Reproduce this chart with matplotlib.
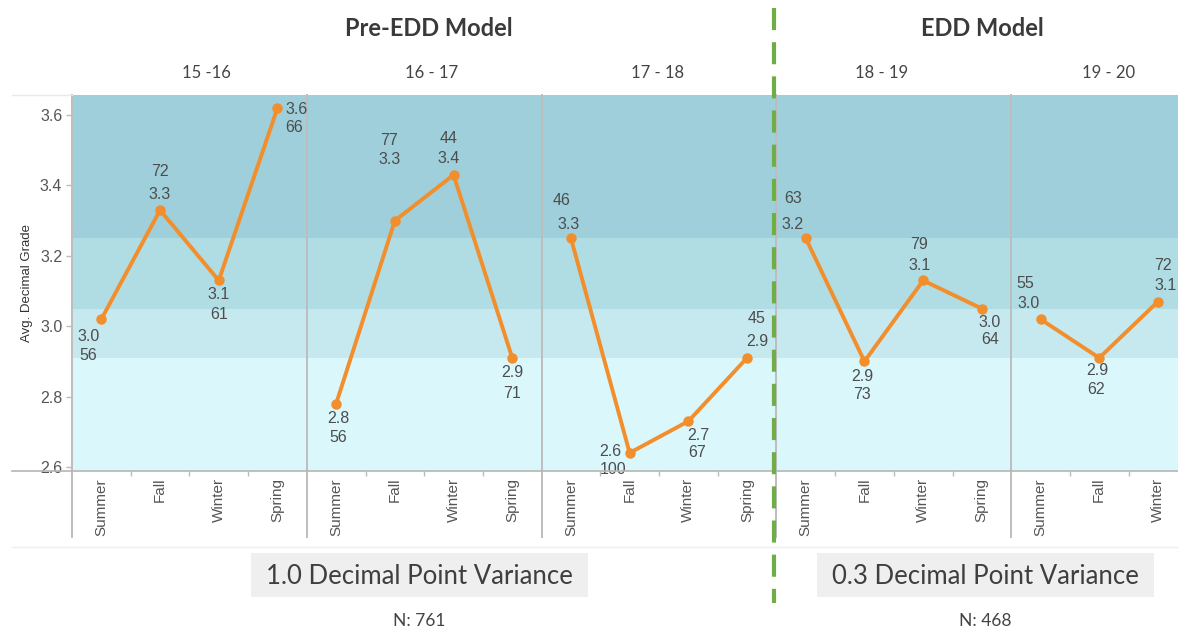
import matplotlib
matplotlib.use("Agg")
import matplotlib.pyplot as plt
from matplotlib.patches import Rectangle

# ---------------- data ----------------
years = ["15 -16", "16 - 17", "17 - 18", "18 - 19", "19 - 20"]
seasons = [["Summer", "Fall", "Winter", "Spring"],
           ["Summer", "Fall", "Winter", "Spring"],
           ["Summer", "Fall", "Winter", "Spring"],
           ["Summer", "Fall", "Winter", "Spring"],
           ["Summer", "Fall", "Winter"]]
grades = [[3.02, 3.33, 3.13, 3.62],
          [2.78, 3.30, 3.43, 2.91],
          [3.25, 2.64, 2.73, 2.91],
          [3.25, 2.90, 3.13, 3.05],
          [3.02, 2.91, 3.07]]
grade_labels = [["3.0", "3.3", "3.1", "3.6"],
                ["2.8", "3.3", "3.4", "2.9"],
                ["3.3", "2.6", "2.7", "2.9"],
                ["3.2", "2.9", "3.1", "3.0"],
                ["3.0", "2.9", "3.1"]]
counts = [[56, 72, 61, 66],
          [56, 77, 44, 71],
          [46, 100, 67, 45],
          [63, 73, 79, 64],
          [55, 62, 72]]
band_edges = [2.91, 3.05, 3.25]
band_colors = ["#DAF7FC", "#C6E9EF", "#B0DCE4", "#9ECFDA"]
models = ["Pre-EDD Model", "EDD Model"]
variances = ["1.0 Decimal Point Variance", "0.3 Decimal Point Variance"]
totals = ["N: 761", "N: 468"]

# label offsets in pixels (grade dx, grade dy, count dx, count dy), y down
label_off = [[(-13, 17, -13, 36), (0, -16, 0, -39), (0, 14, 0, 34), (16, 1, 16, 19)],
             [(2, 15, 2, 34), (-5, -61, -6, -80), (-5, -16, -5, -36), (0, 15, 0, 36)],
             [(-2, -14, -9, -38), (-19, -1, -17, 17), (10, 14, 9, 31), (10, -16, 10, -39)],
             [(-13, -14, -13, -40), (-2, 15, -2, 33), (-4, -15, -4, -36), (8, 14, 8, 31)],
             [(-12, -16, -15, -36), (-2, 13, -3, 32), (8, -16, 5, -36)]]

# ---------------- figure ----------------
W, H = 1178, 631
fig = plt.figure(figsize=(W / 100, H / 100), dpi=100)
fig.patch.set_facecolor("white")

px_left, px_top, px_bot = 72, 95, 471
slot = 58.7
ax = fig.add_axes([px_left / W, (H - px_bot) / H, 1 - px_left / W, (px_bot - px_top) / H])

y_lo = 2.6 - 4 / 350
y_hi = 3.6 + 20 / 350
x_lo = -0.5
x_hi = -0.5 + (W - px_left) / slot
ax.set_xlim(x_lo, x_hi)
ax.set_ylim(y_lo, y_hi)

edges = [y_lo] + band_edges + [y_hi]
for i, c in enumerate(band_colors):
    ax.axhspan(edges[i], edges[i + 1], color=c, lw=0, zorder=0)

ORANGE = "#F28E2B"
TXT = "#4D4D4D"
lab_font = "Liberation Sans"

xticks, xlabels, minor = [], [], []
start = 0
for p, (ss, gs) in enumerate(zip(seasons, grades)):
    xs = [start + i for i in range(len(ss))]
    ax.plot(xs, gs, color=ORANGE, lw=2.8, marker="o", ms=6.5, zorder=3,
            solid_capstyle="round", solid_joinstyle="round")
    for i, x in enumerate(xs):
        gdx, gdy, cdx, cdy = label_off[p][i]
        ha = "left" if (p == 0 and i == 3) else "center"
        ax.annotate(grade_labels[p][i], (x, gs[i]), xytext=(gdx - (8 if ha == "left" else 0), -gdy),
                    textcoords="offset pixels", ha=ha, va="center",
                    fontsize=11.5, color=TXT, family=lab_font, zorder=4)
        ax.annotate(str(counts[p][i]), (x, gs[i]), xytext=(cdx - (8 if ha == "left" else 0), -cdy),
                    textcoords="offset pixels", ha=ha, va="center",
                    fontsize=11.5, color=TXT, family=lab_font, zorder=4)
    xticks += xs
    xlabels += ss
    minor += [x + 0.5 for x in xs[:-1]]
    # panel divider
    ax.axvline(start - 0.5, ymin=-(537 - px_bot) / (px_bot - px_top), ymax=1,
               color="#BDBDBD", lw=1.4, clip_on=False, zorder=2)
    start += len(ss)

ax.set_xticks(xticks)
ax.set_xticklabels(xlabels, rotation=90, fontsize=11, color="#555555", family=lab_font)
ax.set_xticks(minor, minor=True)
ax.tick_params(axis="x", which="major", length=0, pad=5)
ax.tick_params(axis="x", which="minor", length=3.5, color="#BBBBBB", width=1)

yt = [2.6, 2.8, 3.0, 3.2, 3.4, 3.6]
ax.set_yticks(yt)
ax.set_yticklabels([f"{v:.1f}" for v in yt], fontsize=11.5, color="#555555", family=lab_font)
ax.tick_params(axis="y", length=4, color="#BBBBBB", width=1, pad=3)
ax.set_ylabel("Avg. Decimal Grade", fontsize=9.5, color="#333333", family=lab_font, labelpad=5)
for s in ["top", "right", "bottom", "left"]:
    ax.spines[s].set_visible(False)

# ---------------- overlay (pixel coordinates) ----------------
ov = fig.add_axes([0, 0, 1, 1])
ov.set_xlim(0, W)
ov.set_ylim(H, 0)
ov.axis("off")

ov.plot([12, W], [px_bot, px_bot], color="#B5B5B5", lw=1.2)
ov.plot([12, px_left], [px_top, px_top], color="#E8E8E8", lw=1)
ov.plot([12, W], [547, 547], color="#EEEEEE", lw=1)

title_font = ["Lato", "DejaVu Sans"]
for t, x in zip(models, [429, 982]):
    ov.text(x, 29, t, ha="center", va="center", fontsize=17, fontweight="bold",
            color="#3A3A3A", family=title_font)
for t, x in zip(years, [206, 432, 658, 882, 1109]):
    ov.text(x, 73, t, ha="center", va="center", fontsize=12, color="#444444", family=title_font)

for (x0, x1), t, n in zip([(251, 588), (817, 1154)], variances, totals):
    ov.add_patch(Rectangle((x0, 553), x1 - x0, 44, facecolor="#EFEFEF", edgecolor="none"))
    ov.text((x0 + x1) / 2, 576, t, ha="center", va="center", fontsize=18.5,
            color="#3F3F3F", family=title_font)
    ov.text((x0 + x1) / 2, 621, n, ha="center", va="center", fontsize=12.5,
            color="#444444", family=title_font)

ov.plot([774, 774], [8, 603], color="#70AD47", lw=3, dashes=(5.3, 2.9))

fig.savefig("out.png", dpi=100, facecolor="white")
